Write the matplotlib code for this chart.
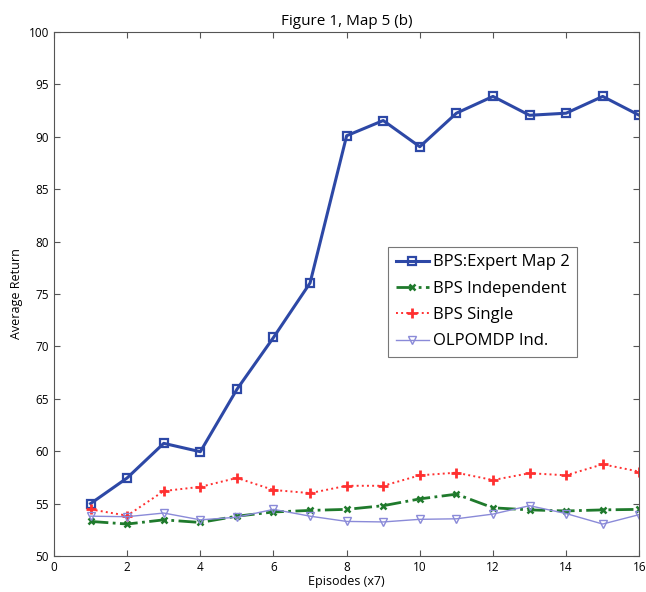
import matplotlib
matplotlib.use("Agg")
import matplotlib.pyplot as plt

plt.rcParams['font.family'] = ['Open Sans', 'DejaVu Sans']

episodes = list(range(1, 17))
expert = [55.0, 57.45, 60.75, 59.95, 65.9, 70.85, 76.05, 90.1, 91.55, 89.05,
          92.25, 93.85, 92.05, 92.25, 93.85, 92.05]
independent = [53.3, 53.05, 53.45, 53.2, 53.8, 54.2, 54.35, 54.45, 54.8, 55.45,
               55.9, 54.6, 54.4, 54.3, 54.4, 54.45]
single = [54.45, 53.85, 56.2, 56.6, 57.45, 56.3, 56.0, 56.7, 56.7, 57.7,
          57.95, 57.25, 57.9, 57.7, 58.75, 58.05]
olpomdp = [53.8, 53.75, 54.1, 53.45, 53.7, 54.45, 53.8, 53.3, 53.25, 53.5,
           53.55, 54.0, 54.8, 54.05, 53.05, 53.95]

fig = plt.figure(figsize=(6.46, 5.92), dpi=100)
ax = fig.add_axes([0.0836, 0.0608, 0.906, 0.8852])

ax.plot(episodes, expert, color='#2d48a6', lw=2.2, marker='s', ms=5.5,
        mfc='none', mew=1.6, label='BPS:Expert Map 2')
ax.plot(episodes, independent, color='#1f7a2c', lw=2.0, ls='-.', marker='x',
        ms=4, mew=1.8, label='BPS Independent')
ax.plot(episodes, single, color='#ff3030', lw=1.4, ls=':', marker='+',
        ms=6.5, mew=2.0, label='BPS Single')
ax.plot(episodes, olpomdp, color='#8a8ad8', lw=1.0, marker='v', ms=6,
        mfc='none', mew=1.0, label='OLPOMDP Ind.')

ax.set_xlim(0, 16)
ax.set_ylim(50, 100)
ax.set_xticks(range(0, 17, 2))
ax.set_yticks(range(50, 101, 5))
ax.tick_params(direction='in', top=True, right=True, labelsize=8.5, length=4,
               color='#555555')
for s in ax.spines.values():
    s.set_color('#555555')
    s.set_linewidth(0.8)

ax.set_title('Figure 1, Map 5 (b)', fontsize=11, pad=5)
ax.set_xlabel('Episodes (x7)', fontsize=9, labelpad=1)
ax.set_ylabel('Average Return', fontsize=9, labelpad=4)

leg = ax.legend(loc='lower left', bbox_to_anchor=(0.571, 0.38), fontsize=12,
                frameon=True, fancybox=False, borderpad=0.45, handlelength=2.0,
                handletextpad=0.25, labelspacing=0.62, borderaxespad=0)
leg.get_frame().set_edgecolor('#555555')
leg.get_frame().set_linewidth(0.8)

fig.savefig('out.png', dpi=100)
